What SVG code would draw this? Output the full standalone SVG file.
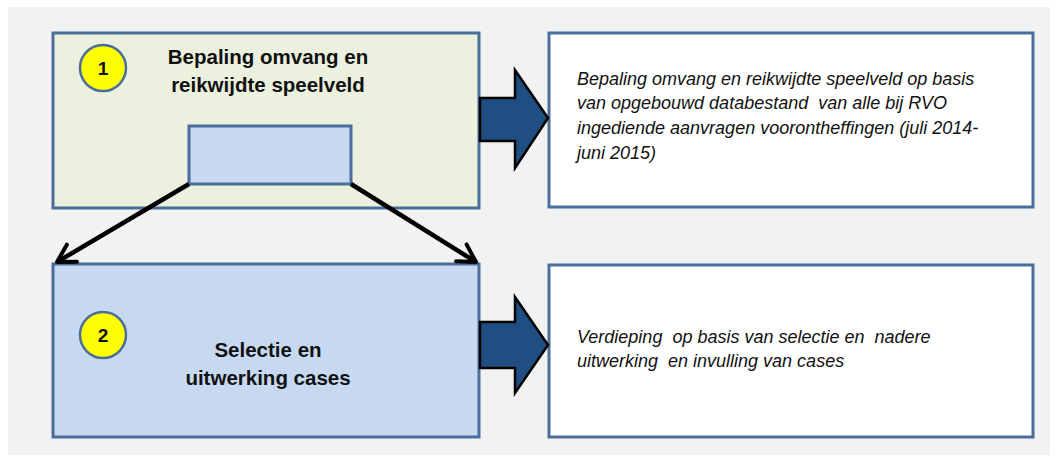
<svg xmlns="http://www.w3.org/2000/svg" width="1057" height="463" viewBox="0 0 1057 463">
<style>
.box{stroke:#4a6d99;stroke-width:3}
.num{fill:#ffff00;stroke:#4a6d99;stroke-width:2.5}
.numt{font-family:"Liberation Sans",Arial,sans-serif;font-weight:bold;font-size:19px;fill:#111;text-anchor:middle}
.title{font-family:"Liberation Sans",Arial,sans-serif;font-weight:bold;font-size:20.5px;fill:#111;text-anchor:middle}
.desc{font-family:"Liberation Sans",Arial,sans-serif;font-style:italic;font-size:18px;fill:#111}
.big{fill:#1f4f82;stroke:#000;stroke-width:2.5;stroke-linejoin:miter}
.conn{stroke:#000;stroke-width:4.5;fill:none}
</style>
<defs>
<marker id="ah" viewBox="0 0 10 10" refX="8" refY="5" markerWidth="5.5" markerHeight="5.5" orient="auto" markerUnits="strokeWidth">
<path d="M1,1 L8,5 L1,9" fill="none" stroke="#000" stroke-width="1.6" stroke-linecap="round" stroke-linejoin="round"/>
</marker>
</defs>
<rect x="0" y="0" width="1057" height="463" fill="#ffffff"/>
<rect x="8" y="7" width="1042" height="448" fill="#f2f2f2"/>

<g id="node1">
<rect class="box" x="53" y="33" width="426" height="175" fill="#ebf1de"/>
<circle class="num" cx="103" cy="68" r="23"/>
<text class="numt" x="103" y="75">1</text>
<text class="title" x="268" y="64">Bepaling omvang en</text>
<text class="title" x="268" y="92">reikwijdte speelveld</text>
<rect class="box" x="189" y="126" width="162" height="58" fill="#c6d9f1"/>
</g>

<g id="node2">
<rect class="box" x="53" y="264" width="426" height="173" fill="#c6d9f1"/>
<circle class="num" cx="103" cy="335" r="23"/>
<text class="numt" x="103" y="342">2</text>
<text class="title" x="268" y="357">Selectie en</text>
<text class="title" x="268" y="385">uitwerking cases</text>
</g>

<g id="desc1">
<rect class="box" x="549" y="33" width="484" height="174" fill="#ffffff"/>
<text class="desc" x="577" y="85">Bepaling omvang en reikwijdte speelveld op basis</text>
<text class="desc" x="577" y="109" xml:space="preserve">van opgebouwd databestand  van alle bij RVO</text>
<text class="desc" x="577" y="134">ingediende aanvragen voorontheffingen (juli 2014-</text>
<text class="desc" x="577" y="159">juni 2015)</text>
</g>

<g id="desc2">
<rect class="box" x="549" y="265" width="484" height="172" fill="#ffffff"/>
<text class="desc" x="577" y="343" xml:space="preserve">Verdieping  op basis van selectie en  nadere</text>
<text class="desc" x="577" y="367" xml:space="preserve">uitwerking  en invulling van cases</text>
</g>

<g id="connectors">
<path class="big" d="M480,98 L515,98 L515,70 L548,118 L515,168 L515,141 L480,141 Z"/>
<path class="big" d="M480,322 L515,322 L515,297 L548,345 L515,393 L515,368 L480,368 Z"/>
<line class="conn" x1="189" y1="184" x2="57" y2="262" marker-end="url(#ah)"/>
<line class="conn" x1="351" y1="184" x2="476" y2="262" marker-end="url(#ah)"/>
</g>
</svg>
